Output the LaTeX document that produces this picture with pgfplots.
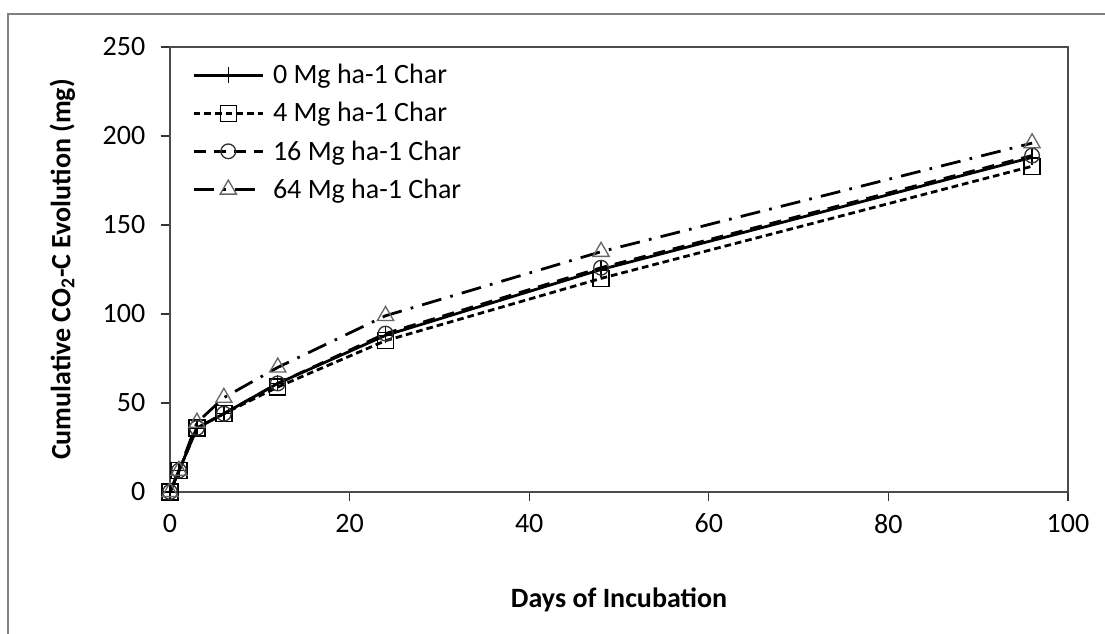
\documentclass[border=0pt]{standalone}
\usepackage{fontspec}
\setmainfont{Carlito}
\usepackage{pgfplots}
\pgfplotsset{compat=1.18}
\pgfplotstableread{
x s0 s4 s16 s64
0 0 0 0 0
1 12 12 12 12
3 36 36 36 39
6 44 44 44 53
12 61 59 61 70
24 88 85 89 99
48 125 120 126 135
96 188 183 189 196
}\datatab
\begin{document}
\begin{tikzpicture}
\useasboundingbox (0pt,0pt) rectangle (828.75pt,475.5pt);
\draw[line width=2.2pt, color=black!50] (6pt,-5pt) -- (6pt,465pt) -- (835pt,465pt);
\begin{axis}[
  at={(127.5pt,106.5pt)}, anchor=south west,
  scale only axis, width=673.5pt, height=333.75pt,
  xmin=0, xmax=100, ymin=0, ymax=250,
  xtick={0,20,...,100}, ytick={0,50,...,250},
  tick align=outside, xtick pos=lower, ytick pos=left,
  major tick length=7pt,
  axis line style={draw=black!70, line width=1.4pt},
  tick style={draw=black!80, line width=1pt},
  every tick label/.append style={font=\fontsize{21}{24}\selectfont},
  /pgf/number format/assume math mode=true,
  xticklabel style={yshift=-6pt},
  yticklabel style={xshift=-8pt},
  xlabel={Days of Incubation},
  ylabel={Cumulative CO\textsubscript{2}-C Evolution (mg)},
  every axis x label/.style={at={(axis description cs:0.5,-0.243)}, anchor=center, font=\fontsize{21}{24}\selectfont\bfseries},
  every axis y label/.style={at={(axis description cs:-0.12,0.5)}, rotate=90, anchor=center, font=\fontsize{21}{24}\selectfont\bfseries},
  clip=false,
  legend image code/.code={\draw[mark repeat=2,mark phase=2,#1] plot coordinates {(0pt,0pt)(26pt,0pt)(52pt,0pt)};},
  legend style={draw=none, fill=none, at={(0.02,0.975)}, anchor=north west,
    font=\fontsize{21}{24}\selectfont, row sep=7.5pt,
    nodes={inner sep=2.5pt},
    /tikz/every odd column/.append style={column sep=4pt}},
  legend cell align=left,
]
\addplot[black, line width=2.1pt, mark=+, mark size=6pt, mark options={solid, line width=1pt}] table[x=x,y=s0] {\datatab};
\addlegendentry{0 Mg ha-1 Char}
\addplot[black, line width=2.1pt, dash pattern=on 5pt off 3pt, mark=square, mark size=6pt, mark options={solid, line width=1pt}] table[x=x,y=s4] {\datatab};
\addlegendentry{4 Mg ha-1 Char}
\addplot[black, line width=2.1pt, dash pattern=on 9pt off 6pt, mark=o, mark size=5.5pt, mark options={solid, line width=1pt, draw=black!80}] table[x=x,y=s16] {\datatab};
\addlegendentry{16 Mg ha-1 Char}
\addplot[black, line width=2.1pt, dash pattern=on 15pt off 7pt on 2pt off 7pt, mark=triangle, mark size=7pt, mark options={solid, line width=1pt, draw=black!60}] table[x=x,y=s64] {\datatab};
\addlegendentry{64 Mg ha-1 Char}
\end{axis}
\end{tikzpicture}
\end{document}
